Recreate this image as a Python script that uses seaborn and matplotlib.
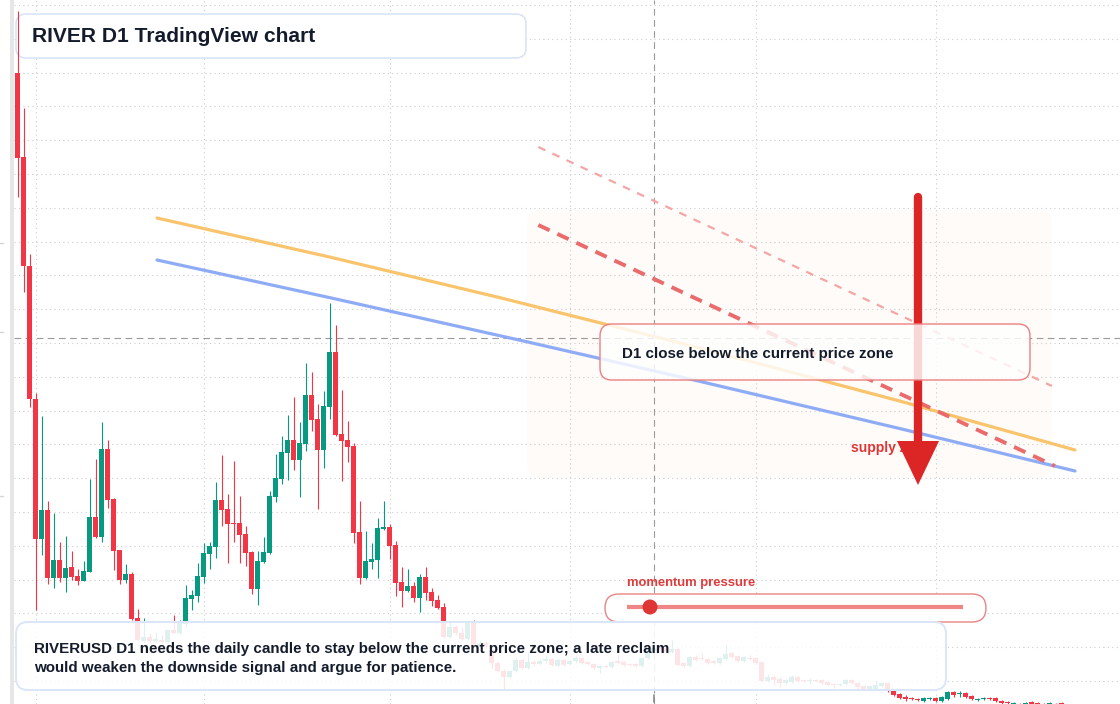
import numpy as np
import pandas as pd
import matplotlib
matplotlib.use("Agg")
import matplotlib.pyplot as plt
import matplotlib.transforms as mtransforms
from matplotlib.patches import FancyBboxPatch, Polygon, Circle, Rectangle
from matplotlib.lines import Line2D
import seaborn as sns

# ---------------- data (RIVERUSD, daily candles) ----------------
start_date = "2025-01-29"
opens = [63.7, 55.3, 44.4, 31.1, 17.1, 20.0, 13.2, 15.0, 13.2, 14.3,
         13.4, 12.9, 13.8, 19.3, 17.3, 26.1, 21.1, 16.0, 13.0, 13.6,
         9.2, 6.9, 7.3, 6.9, 7.0, 6.8, 8.0, 7.7, 8.6, 11.1,
         11.4, 13.3, 15.6, 16.3, 21.0, 20.1, 18.7, 18.7, 17.6, 15.8,
         12.1, 14.8, 15.7, 21.3, 23.1, 25.7, 27.0, 25.0, 26.6, 31.5,
         29.1, 26.0, 30.3, 35.8, 27.6, 27.0, 26.4, 17.8, 13.2, 14.8,
         15.0, 18.1, 18.3, 16.5, 12.8, 11.9, 12.4, 11.2, 13.3, 11.8,
         11.0, 10.3, 7.3, 8.3, 7.7, 7.1, 8.7, 6.4, 6.7, 6.0,
         4.7, 3.9, 3.3, 3.9, 5.0, 4.2, 4.8, 4.6, 4.9, 5.1,
         4.4, 5.0, 4.6, 4.9, 5.2, 4.8, 4.6, 4.2, 4.4, 4.3,
         4.9, 4.8, 4.6, 4.6, 4.4, 5.2, 5.9, 6.3, 6.2, 5.8,
         6.1, 4.7, 4.4, 5.3, 5.2, 5.1, 4.9, 4.7, 5.1, 5.7,
         5.4, 4.9, 5.2, 5.2, 4.8, 2.9, 3.3, 3.1, 2.7, 2.8,
         3.3, 3.0, 2.9, 3.0, 3.0, 2.8, 2.6, 2.5, 2.6, 3.0,
         2.7, 2.4, 2.1, 2.1, 2.4, 2.7, 1.9, 1.6, 1.3, 1.2,
         1.1, 0.9, 1.1, 1.2, 0.9, 1.1, 1.8, 1.6, 1.7, 1.4,
         1.0, 1.1, 1.2, 1.2, 0.9, 0.8, 0.6, 0.6, 0.6, 0.8,
         0.7, 0.6, 0.6, 0.6, 0.7]
highs = [69.9, 60.2, 45.6, 31.7, 29.4, 20.9, 19.7, 16.8, 17.4, 15.9,
         14.1, 14.9, 23.1, 25.1, 28.8, 27.0, 21.2, 16.0, 14.6, 13.8,
         10.1, 9.2, 7.7, 7.8, 7.5, 8.0, 9.5, 9.0, 12.5, 12.0,
         14.7, 16.7, 16.8, 22.8, 25.5, 21.6, 24.9, 21.4, 18.4, 15.9,
         15.9, 17.3, 21.9, 25.6, 27.4, 29.5, 31.3, 28.8, 34.7, 33.8,
         30.6, 31.9, 40.7, 38.5, 32.0, 28.9, 26.7, 20.9, 17.9, 16.7,
         19.2, 20.9, 18.6, 16.9, 14.3, 14.1, 12.8, 13.6, 14.3, 12.2,
         11.5, 10.7, 8.9, 8.5, 8.3, 8.9, 9.0, 7.0, 6.9, 6.2,
         4.9, 4.1, 4.0, 5.2, 5.1, 5.7, 5.0, 5.1, 5.4, 5.2,
         5.2, 5.1, 5.0, 5.4, 5.3, 4.9, 4.7, 4.5, 4.5, 4.9,
         5.5, 4.9, 4.7, 4.7, 5.3, 6.2, 6.5, 6.6, 6.3, 7.0,
         6.2, 4.8, 5.4, 5.5, 5.7, 5.2, 5.0, 5.3, 6.5, 5.8,
         5.5, 5.4, 5.5, 5.3, 4.9, 3.6, 3.4, 3.3, 3.1, 3.5,
         3.4, 3.1, 3.2, 3.1, 3.1, 2.9, 2.7, 2.7, 3.1, 3.1,
         2.8, 2.5, 2.5, 3.0, 2.8, 2.8, 2.0, 1.7, 1.5, 1.3,
         1.2, 1.3, 1.3, 1.3, 1.4, 1.9, 1.9, 1.9, 1.8, 1.5,
         1.2, 1.3, 1.3, 1.3, 1.0, 0.9, 0.8, 0.7, 0.8, 0.9,
         0.8, 0.7, 0.8, 0.7, 0.8]
lows = [51.3, 41.8, 30.3, 10.0, 15.5, 12.6, 12.2, 12.8, 11.8, 13.0,
        12.5, 12.9, 13.8, 17.2, 16.8, 20.2, 14.0, 12.6, 12.7, 9.0,
        6.9, 6.8, 6.7, 6.8, 6.7, 6.7, 7.6, 7.6, 8.4, 10.0,
        10.8, 12.7, 14.1, 15.2, 18.4, 14.7, 16.8, 14.7, 14.4, 11.6,
        10.5, 14.7, 15.6, 20.8, 22.6, 23.0, 24.0, 21.3, 25.9, 27.9,
        20.1, 24.2, 29.1, 27.4, 22.9, 24.8, 16.7, 12.6, 13.1, 14.1,
        13.2, 18.0, 15.1, 11.4, 10.3, 11.8, 10.8, 9.8, 11.0, 10.4,
        10.1, 7.2, 7.2, 7.5, 7.0, 7.0, 6.2, 6.3, 6.2, 4.2,
        3.8, 2.1, 3.2, 3.8, 4.1, 4.1, 4.4, 4.5, 4.7, 4.4,
        4.3, 4.4, 4.5, 4.7, 4.6, 4.5, 4.1, 3.7, 4.2, 4.2,
        4.6, 4.4, 4.4, 4.3, 4.3, 5.1, 5.8, 5.9, 5.7, 5.7,
        4.4, 4.3, 4.3, 4.9, 5.0, 4.6, 4.6, 4.6, 5.0, 5.2,
        4.8, 4.8, 5.0, 4.6, 2.8, 2.8, 2.5, 2.3, 2.6, 2.7,
        2.8, 2.8, 2.6, 2.8, 2.6, 2.4, 2.2, 2.4, 2.5, 2.6,
        2.1, 2.0, 2.0, 2.0, 2.3, 1.8, 1.4, 1.1, 0.9, 1.0,
        0.9, 0.8, 1.0, 0.8, 0.8, 1.0, 1.3, 1.3, 1.2, 1.0,
        0.9, 1.0, 1.0, 0.8, 0.5, 0.5, 0.4, 0.4, 0.5, 0.5,
        0.5, 0.4, 0.5, 0.4, 0.5]
closes = [55.2, 44.4, 31.1, 17.1, 20.0, 13.2, 15.0, 13.2, 14.2, 13.3,
          12.9, 13.9, 19.3, 17.3, 26.1, 21.0, 15.9, 13.0, 13.6, 9.1,
          7.0, 7.3, 6.9, 7.1, 6.8, 8.0, 7.7, 8.8, 11.2, 11.5,
          13.4, 15.7, 16.4, 21.0, 20.0, 18.6, 18.6, 17.5, 15.7, 12.1,
          14.9, 15.8, 21.4, 23.2, 25.8, 27.0, 25.0, 26.7, 31.5, 29.0,
          26.0, 30.4, 35.8, 27.5, 26.9, 26.3, 17.7, 13.2, 14.9, 15.1,
          18.2, 18.3, 16.4, 12.7, 11.9, 12.4, 11.2, 13.3, 11.7, 10.9,
          10.2, 7.3, 8.3, 7.7, 7.1, 8.8, 6.3, 6.7, 6.5, 4.7,
          3.9, 3.3, 3.9, 5.0, 4.2, 4.8, 4.6, 4.9, 5.1, 4.5,
          5.0, 4.5, 4.9, 5.2, 4.7, 4.6, 4.2, 4.4, 4.3, 4.8,
          4.7, 4.5, 4.5, 4.4, 5.2, 6.0, 6.2, 6.0, 5.8, 6.1,
          4.5, 4.4, 5.3, 5.0, 5.1, 4.7, 4.7, 5.2, 5.6, 5.3,
          4.9, 5.3, 5.1, 4.7, 2.9, 3.3, 3.0, 2.7, 3.0, 3.3,
          2.9, 2.9, 3.0, 2.9, 2.7, 2.5, 2.5, 2.6, 3.0, 2.7,
          2.3, 2.1, 2.4, 2.5, 2.7, 1.9, 1.5, 1.2, 1.1, 1.1,
          1.0, 1.2, 1.2, 0.9, 1.3, 1.8, 1.5, 1.7, 1.3, 1.1,
          1.1, 1.2, 1.1, 0.9, 0.7, 0.7, 0.7, 0.5, 0.7, 0.6,
          0.6, 0.5, 0.7, 0.5, 0.6]

# moving-average style curves (candle index, price)
ma_fast_x = [23.25, 52.08, 80.42, 113.75, 147.08, 176.25]
ma_fast_y = [49.2, 45.29, 41.23, 36.2, 30.89, 26.0]
ma_slow_x = [23.25, 52.08, 84.25, 113.75, 147.08, 176.25]
ma_slow_y = [45.0, 41.23, 36.91, 32.86, 28.14, 23.9]
# projected downtrend lines
trend_main_x = [86.8, 172.9]
trend_main_y = [48.5, 24.4]
trend_upper_x = [86.8, 172.4]
trend_upper_y = [56.3, 32.4]
# cursor
cursor_date = "2025-05-15"
cursor_price = 37.2
grid_levels = [70.5 - 3.38 * k for k in range(21)]

title = "RIVER D1 TradingView chart"
zone_label = "D1 close below the current price zone"
supply_label = "supply zone"
momentum_label = "momentum pressure"
note_line1 = "RIVERUSD D1 needs the daily candle to stay below the current price zone; a late reclaim"
note_line2 = "would weaken the downside signal and argue for patience."

# ---------------- figure ----------------
sns.set_theme(style="white")
plt.rcParams['font.family'] = ['Liberation Sans', 'DejaVu Sans']

W, H = 1120, 704
fig = plt.figure(figsize=(W / 100, H / 100), dpi=100)
fig.patch.set_facecolor("white")
ax = fig.add_axes([14 / W, 0, (W - 14) / W, 1])
ax.set_facecolor("white")

dates = pd.date_range(start_date, periods=len(opens), freq="D")
idx = np.arange(len(opens))
month_starts = [i for i, d in enumerate(dates) if d.day == 1]
cursor_idx = int(np.where(dates == pd.Timestamp(cursor_date))[0][0])

ax.set_xlim((14 - 17.5) / 6, (W - 17.5) / 6)
ax.set_ylim(0.6, 71.0)
ax.set_xticks(month_starts)
ax.set_yticks(grid_levels)
ax.set_axisbelow(True)
ax.grid(True, color="#cdcdcd", linestyle=(0, (1, 3)), linewidth=0.8)
ax.tick_params(length=0, labelbottom=False, labelleft=False)
for s in ax.spines.values():
    s.set_visible(False)

pix = mtransforms.Affine2D().scale(1 / W, -1 / H).translate(0, 1) + fig.transFigure

# left price-scale band
fig.patches.append(Rectangle((10 / W, 0), 4 / W, 1, transform=fig.transFigure,
                             facecolor="#e6e6e6", edgecolor="none", zorder=0))
for yy in [243, 332, 496]:
    fig.lines.append(Line2D([0 / W, 3 / W], [1 - yy / H, 1 - yy / H],
                            transform=fig.transFigure, color="#d4d4d4", lw=1))

# faint zone rectangle
ax.add_patch(FancyBboxPatch((527, 210), 525, 268, boxstyle="round,pad=0,rounding_size=14",
                            transform=pix, facecolor="#fefbf8", edgecolor="none", zorder=0.2))

# cursor crosshair
ax.axvline(cursor_idx, color="#9a9a9a", lw=0.8, dashes=(6, 4), zorder=1)
ax.axhline(cursor_price, color="#9a9a9a", lw=0.8, dashes=(6, 4), zorder=1)
ax.add_line(Line2D([653.5, 653.5], [695, 702], transform=pix, color="#8a8a8a", lw=1.2,
                   clip_on=False, zorder=1))

# title box
ax.add_patch(FancyBboxPatch((16, 14), 510, 44, boxstyle="round,pad=0,rounding_size=10",
                            transform=pix, facecolor="white", edgecolor="#d7e3f8", lw=1.1,
                            zorder=2.8))
ax.text(32, 37, title, transform=pix, fontsize=15.1, fontweight="bold", color="#141c2c",
        va="center", ha="left", zorder=2.9)

# candles
red, green = "#f23645", "#089981"
o = np.array(opens); c = np.array(closes); hi = np.array(highs); lo = np.array(lows)
cols = np.where(c >= o, green, red)
ax.vlines(idx, lo, hi, colors=cols, lw=0.8, zorder=3)
body_h = np.maximum(np.abs(c - o), 0.12)
ax.bar(idx, body_h, bottom=np.minimum(o, c), width=0.8, color=cols, linewidth=0, zorder=3.1)

# moving average curves
sns.lineplot(x=ma_fast_x, y=ma_fast_y, ax=ax, color="#f9c46c", lw=2.3, zorder=4, sort=False)
sns.lineplot(x=ma_slow_x, y=ma_slow_y, ax=ax, color="#8eabf5", lw=2.3, zorder=4, sort=False)

# dashed trend lines
ax.plot(trend_upper_x, trend_upper_y, color="#f4a6a6", lw=1.6, dashes=(3.5, 3.5), zorder=4.2)
ax.plot(trend_main_x, trend_main_y, color="#e96b6b", lw=2.8, dashes=(3.2, 2.2), zorder=4.3)

# supply zone label + arrow
ax.text(851, 448, supply_label, transform=pix, fontsize=10, fontweight="bold",
        color="#e23434", va="center", ha="left", zorder=6.4)
ax.add_line(Line2D([918, 918], [197, 446], transform=pix, color="#dc2626", lw=6.0,
                   solid_capstyle="round", zorder=6.5))
ax.add_patch(Polygon([(897, 441), (939, 441), (918, 485)], closed=True, transform=pix,
                     facecolor="#dc2626", edgecolor="none", zorder=6.6))

# center callout box
ax.add_patch(FancyBboxPatch((600, 324), 430, 56, boxstyle="round,pad=0,rounding_size=12",
                            transform=pix, facecolor=(1, 1, 1, 0.82), edgecolor="#ec8080",
                            lw=1.0, zorder=7))
ax.text(622, 354, zone_label, transform=pix, fontsize=10.9, fontweight="bold",
        color="#141c2c", va="center", ha="left", zorder=7.1)

# momentum gauge
ax.text(627, 583, momentum_label, transform=pix, fontsize=9.4, fontweight="bold",
        color="#e03a3a", va="center", ha="left", zorder=8)
ax.add_patch(FancyBboxPatch((605, 594), 381, 28, boxstyle="round,pad=0,rounding_size=14",
                            transform=pix, facecolor="white", edgecolor="#e98484", lw=1.0,
                            zorder=8))
ax.add_line(Line2D([627, 963], [607, 607], transform=pix, color="#ef8585", lw=3.0,
                   solid_capstyle="butt", zorder=8.1))
ax.add_patch(Circle((650, 607), 7.5, transform=pix, facecolor="#e03535", edgecolor="none",
                    zorder=8.2))

# bottom note box
ax.add_patch(FancyBboxPatch((16, 622), 930, 68, boxstyle="round,pad=0,rounding_size=12",
                            transform=pix, facecolor=(1, 1, 1, 0.87), edgecolor="#dbe6f9",
                            lw=1.4, zorder=9))
ax.text(34, 649, note_line1, transform=pix, fontsize=10.9, fontweight="bold",
        color="#141c2c", va="center", ha="left", zorder=9.1)
ax.text(34, 668, note_line2, transform=pix, fontsize=10.9, fontweight="bold",
        color="#141c2c", va="center", ha="left", zorder=9.1)

fig.savefig("out.png", dpi=100, facecolor="white")
